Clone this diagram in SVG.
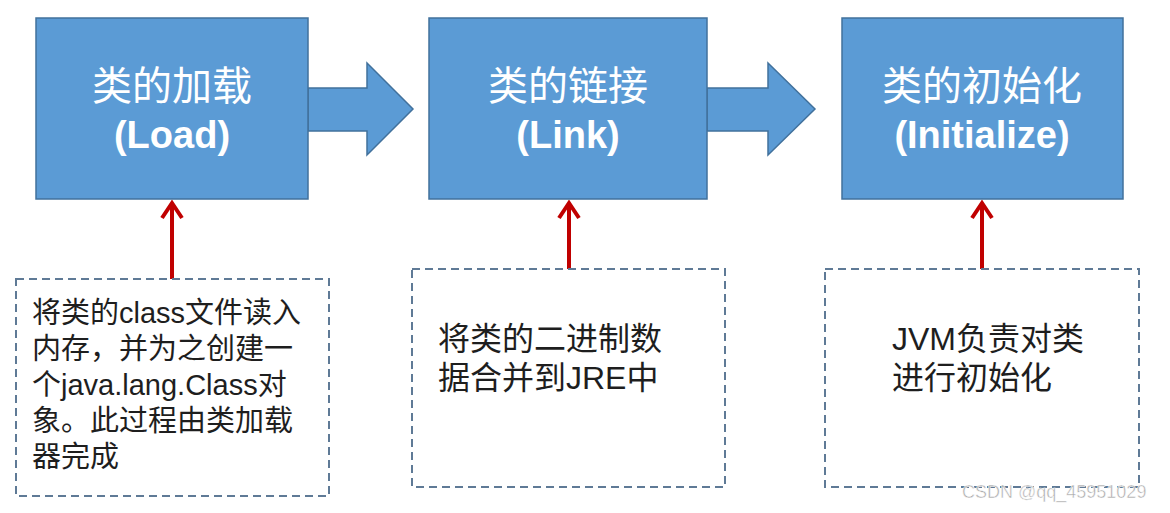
<svg xmlns="http://www.w3.org/2000/svg" width="1170" height="513" viewBox="0 0 1170 513">
<style>
.box{fill:#5b9bd5;stroke:#41719c;stroke-width:1.5}
.t1{font-family:"Liberation Sans","Noto Sans CJK SC",sans-serif;font-size:40px;fill:#fff;text-anchor:middle}
.t2{font-family:"Liberation Sans","Noto Sans CJK SC",sans-serif;font-size:38px;font-weight:bold;fill:#fff;text-anchor:middle}
.note{fill:#fff;stroke:#5f7a96;stroke-width:2;stroke-dasharray:8 5}
.nt{font-family:"Liberation Sans","Noto Sans CJK SC",sans-serif;fill:#1e1e1e}
.red{fill:none;stroke:#c00000;stroke-width:4;stroke-linejoin:miter}
.wm{font-family:"Liberation Sans","Noto Sans CJK SC",sans-serif;font-size:18px;fill:#a9a9a9;stroke:#fff;stroke-width:0.5}
</style>
<rect width="1170" height="513" fill="#fff"/>
<g id="connectors">
<polygon class="box" points="308,88 367,88 367,63 413,109 367,155 367,131 308,131"/>
<polygon class="box" points="707,88 768,88 768,63 815,109 768,155 768,131 707,131"/>
<path class="red" d="M172,279 V203 M162,218 L172,203 L182,218"/>
<path class="red" d="M569,269 V203 M559,218 L569,203 L579,218"/>
<path class="red" d="M982,269 V203 M972,218 L982,203 L992,218"/>
</g>
<g id="load">
<rect class="box" x="36" y="18" width="272" height="181"/>
<text class="t1" x="172" y="100">类的加载</text>
<text class="t2" x="172" y="148">(Load)</text>
</g>
<g id="link">
<rect class="box" x="429" y="18" width="278" height="181"/>
<text class="t1" x="568" y="100">类的链接</text>
<text class="t2" x="568" y="148">(Link)</text>
</g>
<g id="init">
<rect class="box" x="842" y="18" width="281" height="181"/>
<text class="t1" x="982" y="100">类的初始化</text>
<text class="t2" x="982" y="148">(Initialize)</text>
</g>
<g id="note-load">
<rect class="note" x="16" y="279" width="313" height="217"/>
<text class="nt" font-size="29">
<tspan x="32" y="323">将类的class文件读入</tspan>
<tspan x="32" y="359">内存，并为之创建一</tspan>
<tspan x="32" y="395">个java.lang.Class对</tspan>
<tspan x="32" y="431">象。此过程由类加载</tspan>
<tspan x="32" y="467">器完成</tspan>
</text>
</g>
<g id="note-link">
<rect class="note" x="412" y="269" width="313" height="218"/>
<text class="nt" font-size="32">
<tspan x="438" y="350">将类的二进制数</tspan>
<tspan x="438" y="389">据合并到JRE中</tspan>
</text>
</g>
<g id="note-init">
<rect class="note" x="825" y="269" width="314" height="218"/>
<text class="nt" font-size="32">
<tspan x="892" y="350">JVM负责对类</tspan>
<tspan x="892" y="389">进行初始化</tspan>
</text>
</g>
<text class="wm" x="962" y="498">CSDN @qq_45951029</text>
</svg>
